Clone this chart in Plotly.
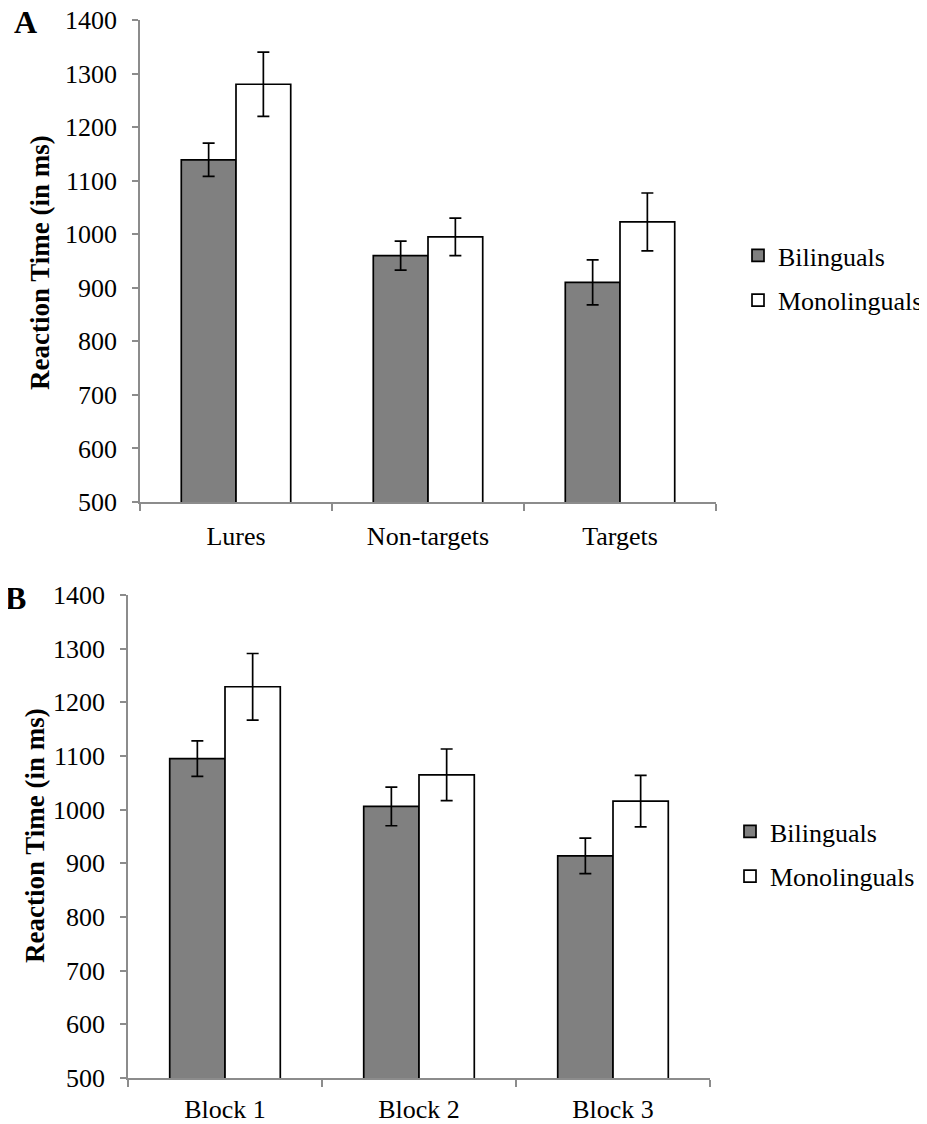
import plotly.graph_objects as go

# Panel A data
cats_a = ["Lures", "Non-targets", "Targets"]
bil_a = [1139, 960, 910]
bil_a_err = [31, 27, 42]
mono_a = [1280, 995, 1023]
mono_a_err = [60, 35, 54]

# Panel B data
cats_b = ["Block 1", "Block 2", "Block 3"]
bil_b = [1095, 1006, 914]
bil_b_err = [33, 36, 33]
mono_b = [1229, 1065, 1016]
mono_b_err = [62, 48, 48]

yticks = [500, 600, 700, 800, 900, 1000, 1100, 1200, 1300, 1400]

FONT = "Liberation Serif, Times New Roman, serif"
GRAY_FILL = "#808080"
AXIS_GRAY = "#8c8c8c"

fig = go.Figure()

def add_pair(cats, bil, bil_err, mono, mono_err, xa, ya, legend):
    fig.add_trace(go.Bar(
        x=cats, y=bil, name="Bilinguals", xaxis=xa, yaxis=ya, legend=legend,
        legendgroup=legend + "b",
        marker=dict(color=GRAY_FILL, line=dict(color="black", width=1.7)),
        error_y=dict(type="data", array=bil_err, color="black", thickness=1.7, width=6),
    ))
    fig.add_trace(go.Bar(
        x=cats, y=mono, name="Monolinguals", xaxis=xa, yaxis=ya, legend=legend,
        legendgroup=legend + "m",
        marker=dict(color="white", line=dict(color="black", width=1.7)),
        error_y=dict(type="data", array=mono_err, color="black", thickness=1.7, width=6),
    ))

add_pair(cats_a, bil_a, bil_a_err, mono_a, mono_a_err, "x", "y", "legend")
add_pair(cats_b, bil_b, bil_b_err, mono_b, mono_b_err, "x2", "y2", "legend2")

W, H = 927, 1124
OFF = 8  # page body margin offset

def px_x(p):
    return (p - OFF) / W

def px_y(p):
    return 1 - (p - OFF) / H

xcommon = dict(
    showline=True, linecolor=AXIS_GRAY, linewidth=1.5,
    ticks="outside", tickson="boundaries", ticklen=7, tickcolor=AXIS_GRAY, tickwidth=1.5,
    showgrid=False, zeroline=False, automargin=False,
    tickfont=dict(family=FONT, size=26, color="black"),
    ticklabeloverflow="allow",
)
ycommon = dict(
    range=[500, 1400], tickvals=yticks, showline=True, linecolor=AXIS_GRAY, linewidth=1.5,
    ticks="outside", ticklen=6, tickcolor=AXIS_GRAY, tickwidth=1.5,
    showgrid=False, zeroline=False, automargin=False,
    tickfont=dict(family=FONT, size=26, color="black"),
    ticklabelstandoff=10, ticklabeloverflow="allow",
)

legend_common = dict(
    font=dict(family=FONT, size=26, color="black"),
    xanchor="left", yanchor="middle", bgcolor="rgba(0,0,0,0)",
    traceorder="grouped", tracegroupgap=8, itemwidth=30,
)

def ann(text, x, y, size, angle=0):
    return dict(text=text, x=px_x(x), y=px_y(y), xref="paper", yref="paper",
                xanchor="center", yanchor="middle", showarrow=False, textangle=angle,
                font=dict(family=FONT, size=size, color="black"))

fig.update_layout(
    width=W, height=H,
    margin=dict(l=0, r=0, t=0, b=0, autoexpand=False),
    paper_bgcolor="white", plot_bgcolor="white",
    barmode="group", bargap=0.43, bargroupgap=0,
    xaxis=dict(domain=[px_x(140), px_x(716)], anchor="y", ticklabelstandoff=10, **xcommon),
    yaxis=dict(domain=[px_y(502), px_y(20)], anchor="x", **ycommon),
    xaxis2=dict(domain=[px_x(128), px_x(710)], anchor="y2", ticklabelstandoff=7, **xcommon),
    yaxis2=dict(domain=[px_y(1078), px_y(595)], anchor="x2", **ycommon),
    legend=dict(x=px_x(738), y=px_y(278), **legend_common),
    legend2=dict(x=px_x(730), y=px_y(854), **legend_common),
    annotations=[
        ann("<b>A</b>", 25, 22, 32),
        ann("<b>B</b>", 15, 598, 32),
        ann("<b>Reaction Time (in ms)</b>", 40, 263, 27, -90),
        ann("<b>Reaction Time (in ms)</b>", 35, 836, 27, -90),
    ],
)

fig.write_html("out.html")
